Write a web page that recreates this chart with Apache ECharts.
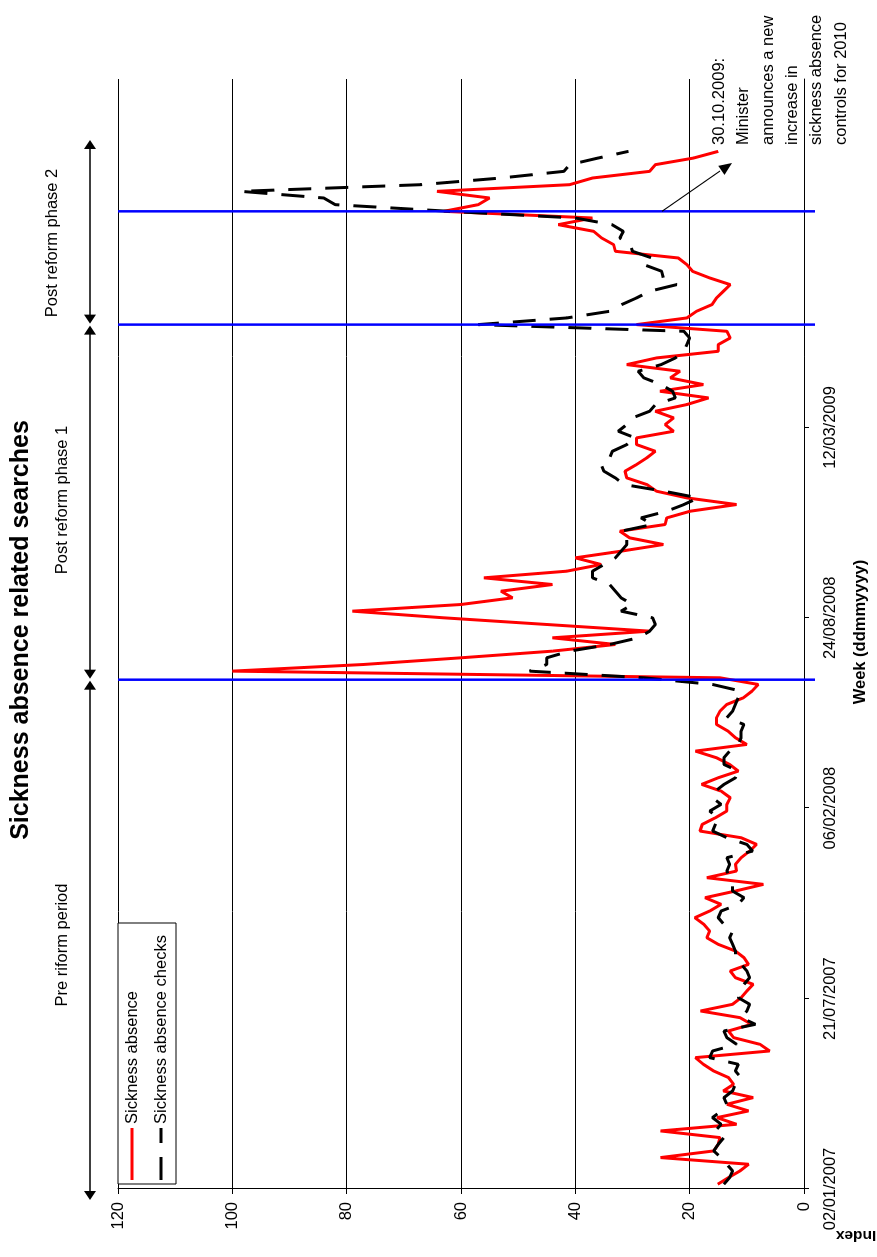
<!DOCTYPE html>
<html>
<head>
<meta charset="utf-8">
<script src="https://cdn.jsdelivr.net/npm/echarts@6/dist/echarts.min.js"></script>
<style>
html,body{margin:0;padding:0;overflow:hidden;background:#fff;width:877px;height:1257px;}
#chart{position:absolute;left:0;top:0;width:1257px;height:877px;transform-origin:0 0;transform:translate(0,1257px) rotate(-90deg);}
</style>
</head>
<body>
<div id="chart"></div>
<script>
// ---------- data ----------
const chartTitle = 'Sickness absence related searches';
const xAxisTitle = 'Week (ddmmyyyy)';
const yAxisTitle = 'Index';
const axisStartDate = '2007-01-02';
const axisEndDate = '2010-03-13';
const firstWeek = '2007-01-07';
const dateTickDates = ['2007-01-02','2007-07-21','2008-02-06','2008-08-24','2009-03-12','2009-09-28'];
const indexTicks = [0, 20, 40, 60, 80, 100, 120];
const reformDates = ['2008-06-20', '2009-06-28', '2009-10-25'];
const periodLabels = ['Pre riform period', 'Post reform phase 1', 'Post reform phase 2'];
const seriesNames = ['Sickness absence', 'Sickness absence checks'];
const annotationLines = ['30.10.2009:', 'Minister', 'announces a new', 'increase in', 'sickness absence', 'controls for 2010'];

const sicknessAbsence = [
15.1, 13.2, 11.2, 9.7, 25.1, 15.8, 15.0, 14.7, 25.1, 11.8,
15.2, 9.7, 13.5, 8.9, 14.1, 12.3, 13.2, 15.8, 17.6, 19.0,
6.0, 7.7, 12.3, 13.2, 9.2, 11.2, 18.1, 12.5, 11.0, 10.0,
8.9, 12.0, 12.9, 9.7, 10.5, 12.0, 15.0, 17.0, 16.5, 17.5,
19.1, 16.5, 14.5, 17.3, 12.0, 7.1, 17.0, 11.8, 12.0, 11.0,
9.5, 8.3, 11.0, 18.2, 17.8, 15.5, 13.5, 13.5, 12.9, 14.5,
17.9, 15.0, 11.5, 13.0, 15.3, 19.0, 10.0, 12.0, 13.3, 15.3,
15.3, 14.7, 13.5, 10.6, 9.1, 8.0, 14.7, 100, 77, 60,
44, 33, 44, 27, 45, 63, 79, 60, 51, 53,
44, 56, 41.5, 35.5, 40, 32, 24.6, 30.5, 32.2, 24.3,
24.0, 19.9, 11.8, 20.5, 25.8, 27.5, 31.0, 31.3, 29.3, 27.5,
26.0, 29.3, 29.3, 22.8, 24.3, 22.8, 26.0, 20.5, 16.7, 25.2,
17.6, 23.4, 21.7, 31.0, 25.8, 15.0, 15.0, 12.9, 13.5, 29.3,
20.5, 18.8, 16.1, 15.3, 14.1, 12.9, 16.5, 19.5, 20.5, 22.0,
33.0, 33.3, 35.4, 36.8, 43.0, 37.0, 63.0, 57.0, 55.0, 64.2,
41.0, 37.0, 27.0, 26.0, 19.3, 15.0
];

const sicknessAbsenceChecks = [
14, 13, 12.5, 13.5, 14.5, 15.8, 15, 14, 15.5, 14.5,
16, 14.5, 13.5, 14, 12.5, 12, 11, 12, 11.5, 16.5,
16, 11.8, 13.5, 14, 8.5, 11, 10, 9.5, 11.5, 11,
10.5, 9.5, 10, 11, 12, 12, 12.5, 13, 12.5, 14,
15, 14.5, 11.5, 10.5, 12.5, 12.5, 13, 13.5, 13, 13.5,
9, 10, 13.5, 16, 15.5, 15, 16.5, 14.5, 16, 15.5,
14, 12, 11.5, 14, 14, 13, 11.5, 11, 11, 10.5,
13.5, 12.5, 12, 11.5, 11, 16, 28, 48, 45, 45,
41, 34, 29, 27, 26, 26.5, 32, 30, 32, 33,
34, 37, 37, 35, 33, 32, 31, 31, 32, 26.5,
28.5, 24, 21, 18.5, 24.5, 31.5, 33, 35, 35.5, 34,
33.5, 31, 29.5, 32.5, 31, 30, 27, 26, 22.5, 23,
25, 28, 29, 25, 22.5, 21, 20.5, 20, 21, 57,
41.5, 34, 31.9, 29.3, 27, 22.3, 24.6, 24.9, 28, 26.6,
30, 30.4, 32.2, 31.6, 33.6, 40, 62, 82, 84, 98.5,
67, 53, 42, 41, 36, 30.7
];

// ---------- helpers ----------
const DAY = 86400000;
function utc(s) { const p = s.split('-').map(Number); return Date.UTC(p[0], p[1] - 1, p[2]); }
const T0 = utc(axisStartDate);
function dayOf(s) { return Math.round((utc(s) - T0) / DAY); }
function fmtDay(v) {
  const d = new Date(T0 + Math.round(v) * DAY);
  const dd = String(d.getUTCDate()).padStart(2, '0');
  const mm = String(d.getUTCMonth() + 1).padStart(2, '0');
  return dd + '/' + mm + '/' + d.getUTCFullYear();
}
const weekDays = sicknessAbsence.map((_, i) => dayOf(firstWeek) + 7 * i);
const tickDays = dateTickDates.map(dayOf);
const FONT = '"Liberation Sans", Arial, sans-serif';
const RED = '#ff0000', BLACK = '#000000', BLUE = '#0000ff';
const DASH = [23, 14];

const chart = echarts.init(document.getElementById('chart'), null, { renderer: 'canvas' });

const option = {
  animation: false,
  backgroundColor: '#fff',
  textStyle: { fontFamily: FONT },
  grid: { left: 68, right: 79, top: 118, bottom: 73, outerBoundsMode: 'none', containLabel: false },
  xAxis: {
    type: 'value',
    min: 0, max: dayOf(axisEndDate),
    interval: 200,
    axisLine: { show: true, onZero: false, lineStyle: { color: '#000', width: 1 } },
    axisTick: { show: true, inside: false, length: 5, lineStyle: { color: '#000' }, customValues: tickDays },
    axisLabel: {
      customValues: tickDays,
      showMaxLabel: false,
      margin: 18, fontSize: 16.5, color: '#000', fontFamily: FONT,
      formatter: v => (tickDays.indexOf(Math.round(v)) >= 0 ? fmtDay(v) : '')
    },
    splitLine: { show: false }
  },
  yAxis: {
    type: 'value',
    min: indexTicks[0], max: indexTicks[indexTicks.length - 1],
    interval: 20,
    axisLine: { show: true, lineStyle: { color: '#000', width: 1 } },
    axisTick: { show: true, inside: false, length: 5, lineStyle: { color: '#000' } },
    axisLabel: { margin: 13, fontSize: 16.5, color: '#000', fontFamily: FONT },
    splitLine: { show: true, lineStyle: { color: '#000', width: 1 } }
  },
  series: [
    {
      name: seriesNames[0], type: 'line', symbol: 'none', showSymbol: false,
      data: weekDays.map((d, i) => [d, sicknessAbsence[i]]),
      lineStyle: { color: RED, width: 3 }, itemStyle: { color: RED }, z: 2
    },
    {
      name: seriesNames[1], type: 'line', symbol: 'none', showSymbol: false,
      data: weekDays.map((d, i) => [d, sicknessAbsenceChecks[i]]),
      lineStyle: { color: BLACK, width: 3, type: DASH, cap: 'butt' }, itemStyle: { color: BLACK }, z: 3
    }
  ]
};
chart.setOption(option);

// ---------- annotations (drawn in the chart's own coordinate frame) ----------
const px = d => chart.convertToPixel({ gridIndex: 0 }, [d, 0])[0];
const py = v => chart.convertToPixel({ gridIndex: 0 }, [0, v])[1];
const b = reformDates.map(s => px(dayOf(s)));
const gLeft = px(0);
const gTop = py(indexTicks[indexTicks.length - 1]);
const gBottom = py(0);

function head(tx, ty, fx, fy, len, half) {
  const dx = tx - fx, dy = ty - fy, L = Math.hypot(dx, dy);
  const ux = dx / L, uy = dy / L;
  const bx = tx - ux * len, by = ty - uy * len;
  return { type: 'polygon', z: 100, shape: { points: [[tx, ty], [bx - uy * half, by + ux * half], [bx + uy * half, by - ux * half]] }, style: { fill: '#000' } };
}
function dblArrow(u0, u1, v) {
  return [
    { type: 'line', z: 100, shape: { x1: u0 + 4, y1: v, x2: u1 - 4, y2: v }, style: { stroke: '#000', lineWidth: 1.3 } },
    head(u0, v, u1, v, 9, 6),
    head(u1, v, u0, v, 9, 6)
  ];
}
function txt(text, x, y, size, weight, extra) {
  return Object.assign({
    type: 'text', z: 100, x: x, y: y,
    style: { text: text, fontSize: size, fontWeight: weight, fontFamily: FONT, fill: '#000', align: 'center', verticalAlign: 'middle' }
  }, extra || {});
}

const g = [];
// reform lines
b.forEach(u => g.push({ type: 'line', z: 90, shape: { x1: u, y1: gTop, x2: u, y2: gBottom + 11 }, style: { stroke: BLUE, lineWidth: 2.5 } }));
// period arrows
const arrowV = 90;
[[57, b[0] - 1], [b[0] + 1, b[1] - 1], [b[1] + 1, 1117]].forEach(r => dblArrow(r[0], r[1], arrowV).forEach(e => g.push(e)));
// period labels
g.push(txt(periodLabels[0], 312, 62, 16.5, 'normal'));
g.push(txt(periodLabels[1], 757, 62, 16.5, 'normal'));
g.push(txt(periodLabels[2], 1014, 52, 16.5, 'normal'));
// title
g.push(txt(chartTitle, 627, 21, 25, 'bold'));
// axis names
g.push(txt(xAxisTitle, 625, 860, 16.5, 'bold'));
g.push(txt(yAxisTitle, 22, 856, 15.5, 'bold', { rotation: Math.PI / 2 }));
// legend box (top-left corner of the plot)
const lgL = gLeft + 5, lgT = gTop, lgW = 261, lgH = 58;
g.push({ type: 'rect', z: 95, shape: { x: lgL, y: lgT, width: lgW, height: lgH }, style: { fill: '#fff', stroke: '#000', lineWidth: 1 } });
[[seriesNames[0], RED, null, 14], [seriesNames[1], BLACK, DASH, 43]].forEach(it => {
  g.push({ type: 'line', z: 96, shape: { x1: lgL + 4, y1: lgT + it[3], x2: lgL + 56, y2: lgT + it[3] }, style: { stroke: it[1], lineWidth: 3, lineDash: it[2], lineCap: 'butt' } });
  g.push({ type: 'text', z: 96, x: lgL + 60, y: lgT + it[3], style: { text: it[0], fontSize: 16.5, fontFamily: FONT, fill: '#000', align: 'left', verticalAlign: 'middle' } });
});
// minister annotation
const aFrom = [b[2], 662], aTo = [1094, 732];
g.push({ type: 'line', z: 100, shape: { x1: aFrom[0], y1: aFrom[1], x2: aTo[0] - 8, y2: aTo[1] - 12 }, style: { stroke: '#000', lineWidth: 1.2 } });
g.push(head(aTo[0], aTo[1], aFrom[0], aFrom[1], 13, 5.5));
g.push({
  type: 'text', z: 100, x: 1112, y: 707,
  style: { text: annotationLines.join('\n'), fontSize: 16.5, fontFamily: FONT, fill: '#000', align: 'left', verticalAlign: 'top', lineHeight: 24.4 }
});

chart.setOption({ graphic: { elements: g } });
</script>
</body>
</html>
